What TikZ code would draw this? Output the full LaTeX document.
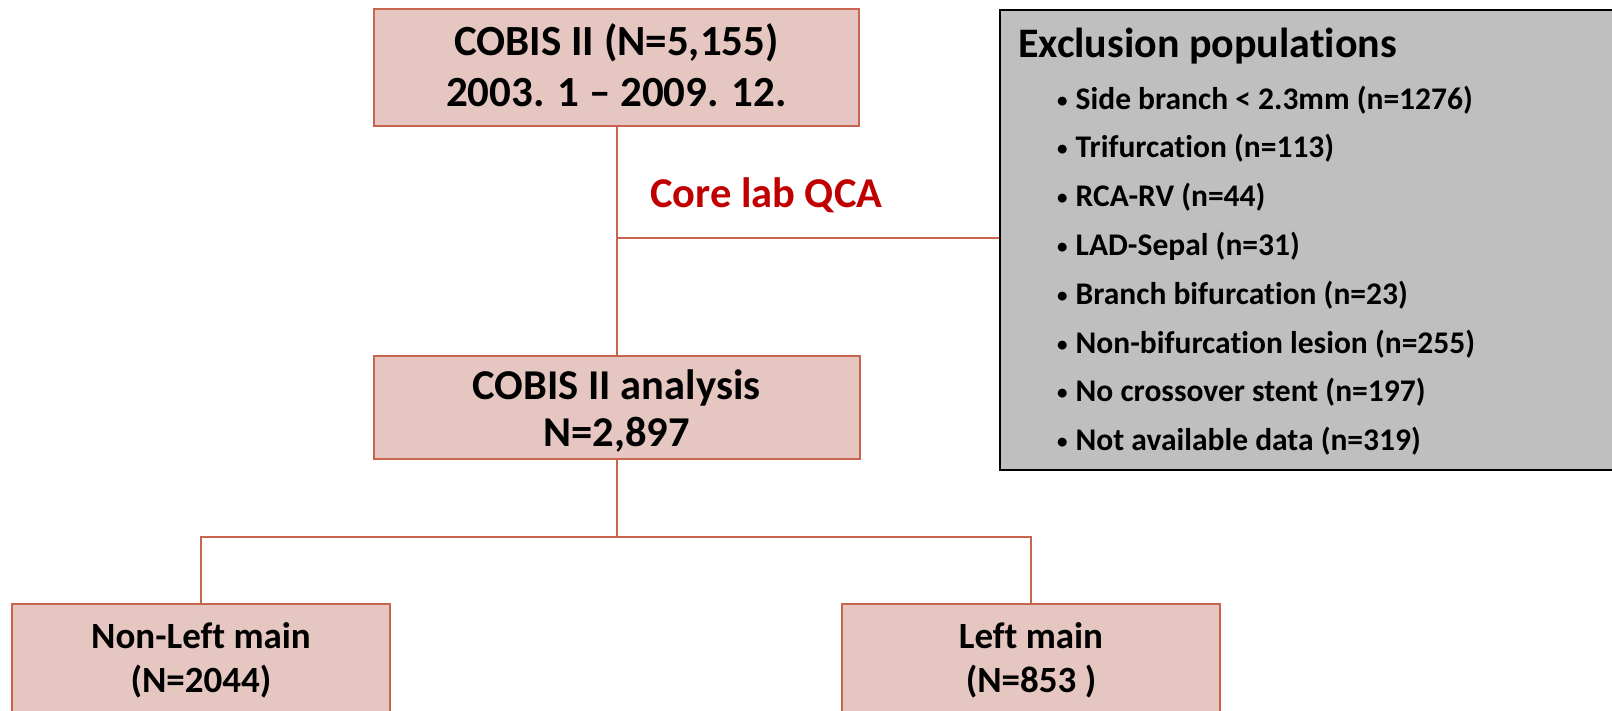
\documentclass[tikz,border=0pt]{standalone}
\usepackage{fontspec}
\setmainfont{Carlito}[RawFeature={-liga;-clig;-calt;-dlig}]

\definecolor{boxfill}{HTML}{E5C6C0}
\definecolor{boxline}{HTML}{C86450}
\definecolor{boxgray}{HTML}{BFBFBF}
\definecolor{qcared}{HTML}{C00000}

% centred multi-line cell; its baseline is that of the first line
\newcommand{\cellstack}[3]{{\fontsize{#1}{#2}\selectfont\bfseries
  \renewcommand{\arraystretch}{1}\begin{tabular}[t]{@{}c@{}}#3\end{tabular}}}
\newcommand{\bulletitem}[1]{\makebox[18.5pt][l]{\raisebox{2pt}{\fontsize{21}{21}\selectfont •}}#1}
% separate letter pairs so they are never joined into one glyph
\newcommand{\sep}{\kern0pt }

\begin{document}
\begin{tikzpicture}[x=1pt, y=-1pt,
  pinkbox/.style={draw=boxline, fill=boxfill, line width=2pt, inner sep=0pt, anchor=base},
  graybox/.style={draw=black, fill=boxgray, line width=1.8pt, inner sep=0pt, anchor=north west},
  conn/.style={draw=boxline, line width=2pt},
  plain/.style={inner sep=0pt, anchor=base west}]
\useasboundingbox (0,0) rectangle (1612,710);
\clip (0,0) rectangle (1612,710);

% study population
\node[pinkbox, minimum width=485pt, text height=46.7pt, text depth=70.3pt]
  (cobis) at (616.5,55.7) {\cellstack{43}{51}{COBIS II (N=5,155)\\2003. 1 – 2009. 12.}};

% analysed population
\node[pinkbox, minimum width=486pt, text height=43pt, text depth=60pt]
  (analysis) at (616.5,399) {\cellstack{42.5}{47}{COBIS II analysis\\N=2,897}};

% subgroups
\node[pinkbox, minimum width=378pt, text height=44pt, text depth=100pt]
  (nonlm) at (201,648) {\cellstack{37}{44}{Non-Lef\sep t main\\(N=2044)}};
\node[pinkbox, minimum width=378pt, text height=44pt, text depth=100pt]
  (lm) at (1031,648) {\cellstack{37}{44}{Lef\sep t main\\(N=853 )}};

% excluded lesions
\node[graybox, minimum width=660pt, minimum height=460pt] (excl) at (999,9) {};
\node[plain] (excltitle) at (1018,57.3)
  {\fontsize{42}{48}\selectfont\bfseries Exclusion populat\sep ions};
\node[plain] (excllist) at (1057,109)
  {{\fontsize{31.5}{48.8}\selectfont\bfseries\renewcommand{\arraystretch}{1}%
   \begin{tabular}[t]{@{}l@{}}
   \bulletitem{Side branch < 2.3mm (n=1276)}\\
   \bulletitem{Trifurcat\sep ion (n=113)}\\
   \bulletitem{RCA-RV (n=44)}\\
   \bulletitem{LAD-Sepal (n=31)}\\
   \bulletitem{Branch bif\sep urcat\sep ion (n=23)}\\
   \bulletitem{Non-bif\sep urcat\sep ion lesion (n=255)}\\
   \bulletitem{No crossover stent (n=197)}\\
   \bulletitem{Not available data (n=319)}
   \end{tabular}}};

\node[plain, text=qcared] (qca) at (650,207)
  {\fontsize{42.5}{48}\selectfont\bfseries Core lab QCA};

% connectors
\coordinate (qcajoin) at (616.5,238);
\coordinate (bus) at (616.5,537);
\draw[conn] (cobis.south) -- (analysis.north);
\draw[conn] (qcajoin) -- (qcajoin -| excl.west);
\draw[conn] (analysis.south) -- (bus);
\draw[conn] (nonlm.north) |- (bus) -| (lm.north);
\end{tikzpicture}
\end{document}
